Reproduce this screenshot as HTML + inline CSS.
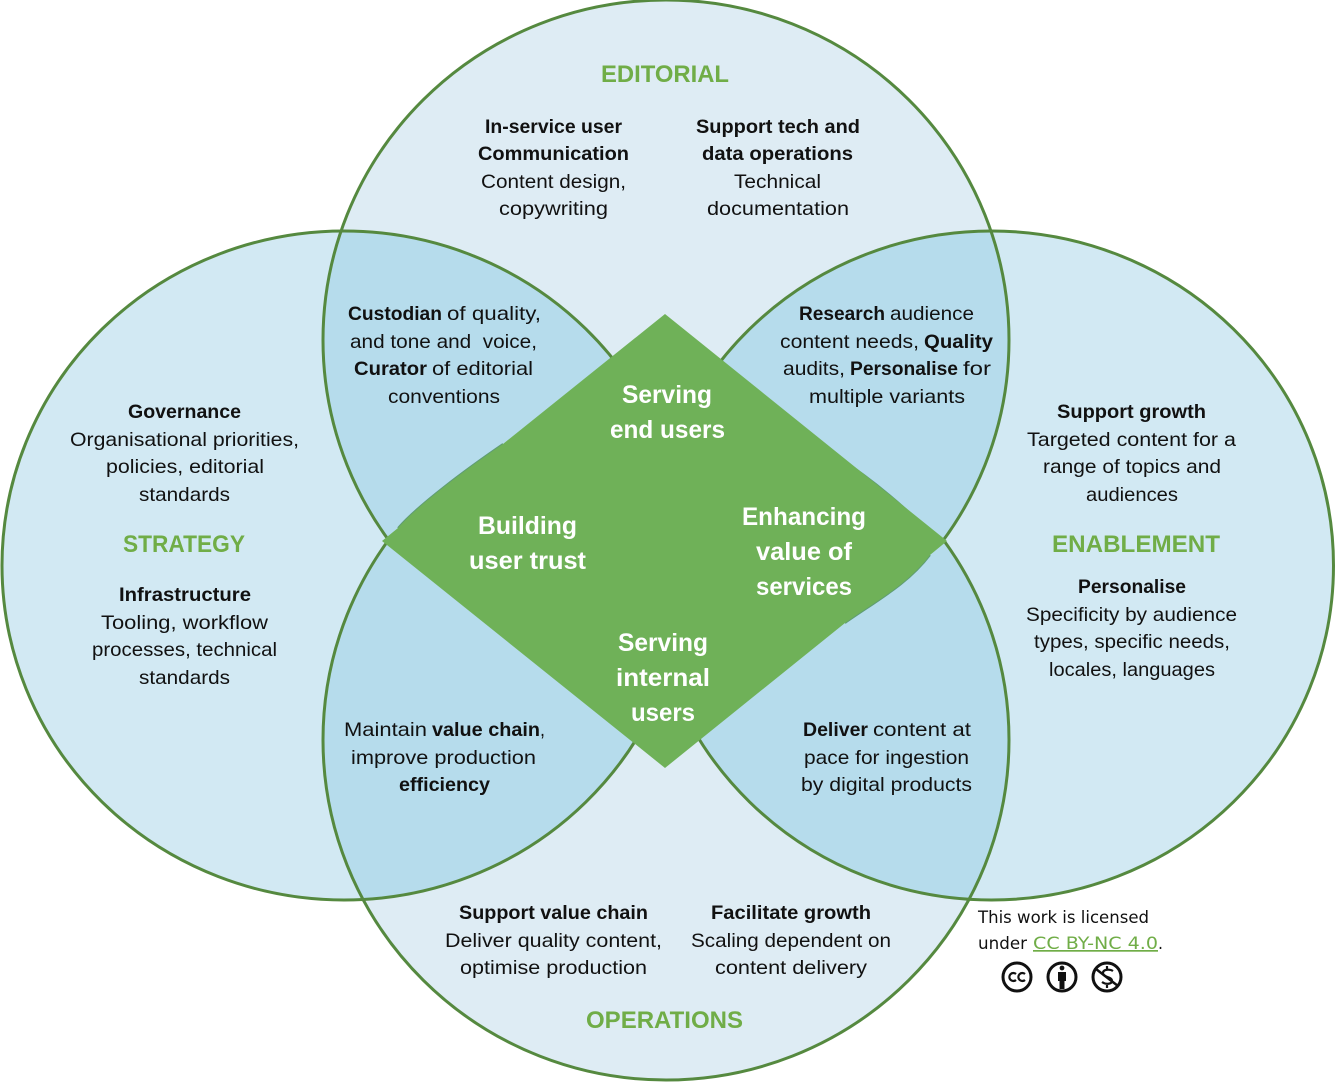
<!DOCTYPE html>
<html><head><meta charset="utf-8">
<style>
html,body{margin:0;padding:0;background:#fff;width:1335px;height:1082px;overflow:hidden}
svg{display:block}
text{font-family:"Liberation Sans",sans-serif;font-size:19.5px;fill:#111;white-space:pre}
.b{font-weight:bold}
.t{font-weight:bold;font-size:24px;fill:#70ad47}
.w{font-weight:bold;font-size:25px;fill:#fff}
.l{font-family:"DejaVu Sans",sans-serif;font-size:17px;fill:#111}
</style></head><body>
<svg width="1335" height="1082" viewBox="0 0 1335 1082" xmlns="http://www.w3.org/2000/svg">
<defs>
<clipPath id="cT"><ellipse cx="666" cy="340" rx="343" ry="340"/></clipPath>
<clipPath id="cB"><ellipse cx="666" cy="740" rx="343" ry="340"/></clipPath>
<clipPath id="up"><rect x="0" y="0" width="1335" height="541"/></clipPath>
<clipPath id="dn"><rect x="0" y="541" width="1335" height="541"/></clipPath>
</defs>
<!-- fills -->
<ellipse cx="344" cy="565.5" rx="342" ry="334.5" fill="#d2e9f3"/>
<ellipse cx="991.5" cy="565.5" rx="342" ry="334.5" fill="#d2e9f3"/>
<ellipse cx="666" cy="340" rx="343" ry="340" fill="#deecf4"/>
<ellipse cx="666" cy="740" rx="343" ry="340" fill="#deecf4"/>
<g clip-path="url(#cT)">
<ellipse cx="344" cy="565.5" rx="342" ry="334.5" fill="#b6dcec"/>
<ellipse cx="991.5" cy="565.5" rx="342" ry="334.5" fill="#b6dcec"/>
</g>
<g clip-path="url(#cB)">
<ellipse cx="344" cy="565.5" rx="342" ry="334.5" fill="#b6dcec"/>
<ellipse cx="991.5" cy="565.5" rx="342" ry="334.5" fill="#b6dcec"/>
</g>
<!-- strokes -->
<g fill="none" stroke="#55893f" stroke-width="3">
<ellipse cx="344" cy="565.5" rx="342" ry="334.5"/>
<ellipse cx="991.5" cy="565.5" rx="342" ry="334.5"/>
<ellipse cx="666" cy="340" rx="343" ry="340" clip-path="url(#up)"/>
<ellipse cx="666" cy="740" rx="343" ry="340" clip-path="url(#dn)"/>
</g>
<!-- hairline arcs peeking past the diamond edge, drawn beneath it -->
<path d="M838 457 Q875 481 910 513 M930 555 C908 584 878 600 845 623 M398 528 C418 505 465 470 503 444" fill="none" stroke="#5f9c74" stroke-width="2"/>
<!-- diamond -->
<path d="M665 314 L947 541 L930 555 C908 584 878 600 845 623 L665 768 L382 541 L398 528 C418 505 465 470 503 444 Z" fill="#6fb158"/>

<!-- titles -->
<text class="t" x="601" y="82" textLength="128" lengthAdjust="spacingAndGlyphs">EDITORIAL</text>
<text class="t" x="123" y="552" textLength="122" lengthAdjust="spacingAndGlyphs">STRATEGY</text>
<text class="t" x="1052" y="552" textLength="168" lengthAdjust="spacingAndGlyphs">ENABLEMENT</text>
<text class="t" x="586" y="1028" textLength="157" lengthAdjust="spacingAndGlyphs">OPERATIONS</text>

<g>
<!-- editorial -->
<text class="b" x="485" y="133" textLength="137" lengthAdjust="spacingAndGlyphs">In-service user</text>
<text class="b" x="478" y="160" textLength="151" lengthAdjust="spacingAndGlyphs">Communication</text>
<text x="481" y="188" textLength="145" lengthAdjust="spacingAndGlyphs">Content design,</text>
<text x="499" y="215" textLength="109" lengthAdjust="spacingAndGlyphs">copywriting</text>
<text class="b" x="696" y="133" textLength="164" lengthAdjust="spacingAndGlyphs">Support tech and</text>
<text class="b" x="702" y="160" textLength="151" lengthAdjust="spacingAndGlyphs">data operations</text>
<text x="734" y="188" textLength="87" lengthAdjust="spacingAndGlyphs">Technical</text>
<text x="707" y="215" textLength="142" lengthAdjust="spacingAndGlyphs">documentation</text>
<!-- top-left lens -->
<text class="b" x="348" y="320" textLength="94" lengthAdjust="spacingAndGlyphs">Custodian</text>
<text x="447" y="320" textLength="94" lengthAdjust="spacingAndGlyphs">of quality,</text>
<text x="350" y="348" textLength="187" lengthAdjust="spacingAndGlyphs">and tone and  voice,</text>
<text class="b" x="354" y="375" textLength="73" lengthAdjust="spacingAndGlyphs">Curator</text>
<text x="432" y="375" textLength="101" lengthAdjust="spacingAndGlyphs">of editorial</text>
<text x="388" y="403" textLength="112" lengthAdjust="spacingAndGlyphs">conventions</text>
<!-- top-right lens -->
<text class="b" x="799" y="320" textLength="86" lengthAdjust="spacingAndGlyphs">Research</text>
<text x="890" y="320" textLength="84" lengthAdjust="spacingAndGlyphs">audience</text>
<text x="780" y="348" textLength="139" lengthAdjust="spacingAndGlyphs">content needs,</text>
<text class="b" x="924" y="348" textLength="69" lengthAdjust="spacingAndGlyphs">Quality</text>
<text x="783" y="375" textLength="62" lengthAdjust="spacingAndGlyphs">audits,</text>
<text class="b" x="850" y="375" textLength="108" lengthAdjust="spacingAndGlyphs">Personalise</text>
<text x="963" y="375" textLength="28" lengthAdjust="spacingAndGlyphs">for</text>
<text x="809" y="403" textLength="156" lengthAdjust="spacingAndGlyphs">multiple variants</text>
<!-- strategy -->
<text class="b" x="128" y="418" textLength="113" lengthAdjust="spacingAndGlyphs">Governance</text>
<text x="70" y="446" textLength="229" lengthAdjust="spacingAndGlyphs">Organisational priorities,</text>
<text x="106" y="473" textLength="158" lengthAdjust="spacingAndGlyphs">policies, editorial</text>
<text x="139" y="501" textLength="91" lengthAdjust="spacingAndGlyphs">standards</text>
<text class="b" x="119" y="601" textLength="132" lengthAdjust="spacingAndGlyphs">Infrastructure</text>
<text x="101" y="629" textLength="167" lengthAdjust="spacingAndGlyphs">Tooling, workflow</text>
<text x="92" y="656" textLength="185" lengthAdjust="spacingAndGlyphs">processes, technical</text>
<text x="139" y="684" textLength="91" lengthAdjust="spacingAndGlyphs">standards</text>
<!-- enablement -->
<text class="b" x="1057" y="418" textLength="149" lengthAdjust="spacingAndGlyphs">Support growth</text>
<text x="1027" y="446" textLength="209" lengthAdjust="spacingAndGlyphs">Targeted content for a</text>
<text x="1043" y="473" textLength="178" lengthAdjust="spacingAndGlyphs">range of topics and</text>
<text x="1086" y="501" textLength="92" lengthAdjust="spacingAndGlyphs">audiences</text>
<text class="b" x="1078" y="593" textLength="108" lengthAdjust="spacingAndGlyphs">Personalise</text>
<text x="1026" y="621" textLength="211" lengthAdjust="spacingAndGlyphs">Specificity by audience</text>
<text x="1034" y="648" textLength="196" lengthAdjust="spacingAndGlyphs">types, specific needs,</text>
<text x="1049" y="676" textLength="166" lengthAdjust="spacingAndGlyphs">locales, languages</text>
<!-- bottom-left lens -->
<text x="344" y="736" textLength="83" lengthAdjust="spacingAndGlyphs">Maintain</text>
<text class="b" x="432" y="736" textLength="108" lengthAdjust="spacingAndGlyphs">value chain</text>
<text x="540" y="736" textLength="5" lengthAdjust="spacingAndGlyphs">,</text>
<text x="351" y="764" textLength="185" lengthAdjust="spacingAndGlyphs">improve production</text>
<text class="b" x="399" y="791" textLength="91" lengthAdjust="spacingAndGlyphs">efficiency</text>
<!-- bottom-right lens -->
<text class="b" x="803" y="736" textLength="65" lengthAdjust="spacingAndGlyphs">Deliver</text>
<text x="873" y="736" textLength="98" lengthAdjust="spacingAndGlyphs">content at</text>
<text x="804" y="764" textLength="165" lengthAdjust="spacingAndGlyphs">pace for ingestion</text>
<text x="801" y="791" textLength="171" lengthAdjust="spacingAndGlyphs">by digital products</text>
<!-- operations -->
<text class="b" x="459" y="919" textLength="189" lengthAdjust="spacingAndGlyphs">Support value chain</text>
<text x="445" y="947" textLength="217" lengthAdjust="spacingAndGlyphs">Deliver quality content,</text>
<text x="460" y="974" textLength="187" lengthAdjust="spacingAndGlyphs">optimise production</text>
<text class="b" x="711" y="919" textLength="160" lengthAdjust="spacingAndGlyphs">Facilitate growth</text>
<text x="691" y="947" textLength="200" lengthAdjust="spacingAndGlyphs">Scaling dependent on</text>
<text x="715" y="974" textLength="152" lengthAdjust="spacingAndGlyphs">content delivery</text>
</g>

<!-- diamond labels -->
<text class="w" x="622" y="403" textLength="90" lengthAdjust="spacingAndGlyphs">Serving</text>
<text class="w" x="610" y="438" textLength="115" lengthAdjust="spacingAndGlyphs">end users</text>
<text class="w" x="478" y="534" textLength="99" lengthAdjust="spacingAndGlyphs">Building</text>
<text class="w" x="469" y="569" textLength="117" lengthAdjust="spacingAndGlyphs">user trust</text>
<text class="w" x="742" y="525" textLength="124" lengthAdjust="spacingAndGlyphs">Enhancing</text>
<text class="w" x="756" y="560" textLength="96" lengthAdjust="spacingAndGlyphs">value of</text>
<text class="w" x="756" y="595" textLength="96" lengthAdjust="spacingAndGlyphs">services</text>
<text class="w" x="618" y="651" textLength="90" lengthAdjust="spacingAndGlyphs">Serving</text>
<text class="w" x="616" y="686" textLength="94" lengthAdjust="spacingAndGlyphs">internal</text>
<text class="w" x="631" y="721" textLength="64" lengthAdjust="spacingAndGlyphs">users</text>

<!-- licence -->
<text class="l" x="978" y="923" textLength="171" lengthAdjust="spacingAndGlyphs">This work is licensed</text>
<text class="l" x="978" y="949" textLength="49" lengthAdjust="spacingAndGlyphs">under</text>
<text class="l" x="1033" y="949" textLength="125" lengthAdjust="spacingAndGlyphs" style="fill:#70ad47;text-decoration:underline">CC BY-NC 4.0</text>
<text class="l" x="1158" y="949" textLength="5" lengthAdjust="spacingAndGlyphs">.</text>
<g fill="none" stroke="#111" stroke-width="3">
<circle cx="1017" cy="977" r="14"/>
<circle cx="1062" cy="977" r="14"/>
<circle cx="1107" cy="977" r="14"/>
<path d="M1016 974a4 4 0 1 0 0 6M1025 974a4 4 0 1 0 0 6" stroke-width="2.2"/>
<path d="M1096 969L1118 986" stroke-width="2.5"/>
<path d="M1113 971c-3-2-10-2-10 2c0 5 9 3 9 8c0 3-6 4-10 1M1107 966v3M1107 985v3" stroke-width="2.2"/>
</g>
<circle cx="1062" cy="968" r="2.4" fill="#111"/>
<path d="M1058 972h8v9h-1.5v8h-5v-8h-1.5z" fill="#111"/>
</svg>
</body></html>
